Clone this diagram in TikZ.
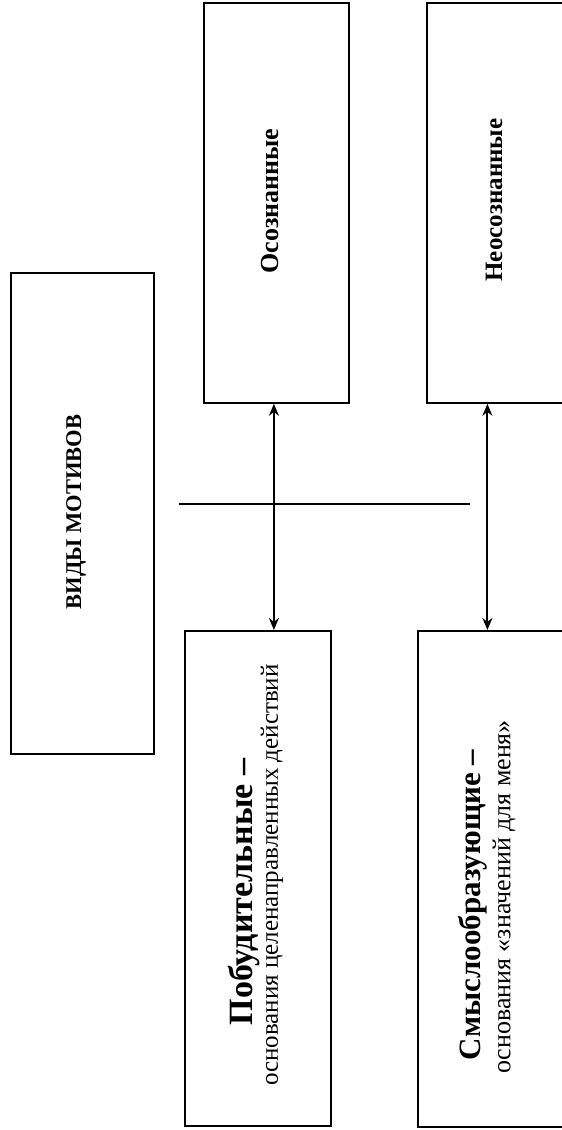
\documentclass[tikz,border=0pt]{standalone}
\usepackage{fontspec}
\setmainfont{Liberation Serif}
\usetikzlibrary{arrows.meta}
\tikzset{
  box/.style={draw, line width=1.8pt, rectangle, inner sep=0pt, anchor=north west},
  vt/.style={rotate=90, inner sep=0pt, anchor=center},
  link/.style={line width=2pt, {Stealth[length=12pt,width=10pt]}-{Stealth[length=12pt,width=10pt]}},
  rule/.style={line width=1.3pt}
}
\begin{document}
\begin{tikzpicture}[x=1pt,y=-1pt]
\useasboundingbox[fill=white] (0,0) rectangle (562,1130);
\clip (0,0) rectangle (562,1130);
% boxes
\node[box, minimum width=143pt, minimum height=481pt] (vid) at (10,272) {};
\node[box, minimum width=145pt, minimum height=400pt] (osoz) at (203,2) {};
\node[box, minimum width=145pt, minimum height=400pt] (neosoz) at (426,2) {};
\node[box, minimum width=146pt, minimum height=495pt] (pob) at (184,630) {};
\node[box, minimum width=150pt, minimum height=496pt] (smysl) at (417,630) {};
% texts
\node[vt, font=\bfseries\fontsize{22.5}{27}\selectfont] (tvid) at (76,512) {ВИДЫ МОТИВОВ};
\node[vt, font=\bfseries\fontsize{26}{30}\selectfont] (tosoz) at (270,201) {Осознанные};
\node[vt, font=\bfseries\fontsize{25}{30}\selectfont] (tneosoz) at (494,200) {Неосознанные};
\node[vt, font=\bfseries\fontsize{34}{38}\selectfont] (tpob1) at (244,892) {Побудительные –};
\node[vt, font=\fontsize{25}{29}\selectfont] (tpob2) at (272,875) {основания целенаправленных действий};
\node[vt, font=\bfseries\fontsize{31}{35}\selectfont] (tsm1) at (473,905) {Смыслообразующие –};
\node[vt, font=\fontsize{26}{30}\selectfont] (tsm2) at (504,897) {основания «значений для меня»};
% connectors
\draw[link] ([xshift=-2.5pt]osoz.south) -- ([xshift=-2.5pt]osoz.south |- pob.north);
\draw[link] ([xshift=-12pt]neosoz.south) -- ([xshift=-12pt]neosoz.south |- smysl.north);
% horizontal rule
\coordinate (h1) at (179,504);
\coordinate (h2) at (470,504);
\draw[rule] (h1) -- (h2);
\end{tikzpicture}
\end{document}
